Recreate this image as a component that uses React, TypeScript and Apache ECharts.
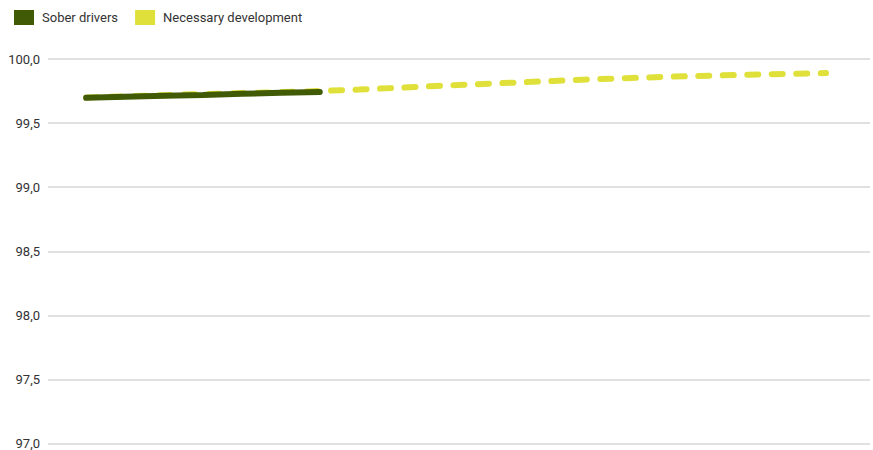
import React, { useEffect, useRef } from "react";
import * as echarts from "echarts";

const years = [2021, 2022, 2023, 2024, 2025, 2026, 2027, 2028, 2029, 2030, 2031, 2032, 2033, 2034, 2035, 2036, 2037, 2038, 2039, 2040];
const soberDrivers = [99.697, 99.705, 99.713, 99.72, 99.728, 99.736, 99.743];
const necessaryDevelopment = [99.7, 99.709, 99.718, 99.726, 99.734, 99.742, 99.75, 99.762, 99.775, 99.79, 99.803, 99.816, 99.829, 99.842, 99.852, 99.862, 99.87, 99.877, 99.884, 99.89];
const yTicks = [97, 97.5, 98, 98.5, 99, 99.5, 100];

const DARK = "#415a05";
const YELLOW = "#dfe13a";

export default function App() {
  const ref = useRef<HTMLDivElement>(null);
  useEffect(() => {
    if (!ref.current) return;
    const chart = echarts.init(ref.current, null, { renderer: "svg" });
    chart.setOption({
      animation: false,
      textStyle: { fontFamily: "Roboto, sans-serif" },
      legend: {
        left: 9,
        top: 5,
        itemWidth: 20,
        itemHeight: 15,
        itemGap: 17,
        icon: "rect",
        data: ["Sober drivers", "Necessary development"],
        textStyle: { color: "#333", fontSize: 13, padding: [0, 0, 0, 3] },
      },
      grid: { left: 48, right: 3, top: 59, bottom: 6, containLabel: false },
      xAxis: {
        type: "value",
        min: years[0] - 0.98,
        max: years[years.length - 1] + 1.13,
        show: false,
        splitLine: { show: false },
      },
      yAxis: {
        type: "value",
        min: yTicks[0],
        max: yTicks[yTicks.length - 1],
        interval: 0.5,
        axisLine: { show: false },
        axisTick: { show: false },
        axisLabel: {
          color: "#333",
          fontSize: 13,
          margin: 8,
          formatter: (v: number) => v.toFixed(1).replace(".", ","),
        },
        splitLine: { lineStyle: { color: "#d6d6d6", width: 1.5 } },
      },
      series: [
        {
          name: "Necessary development",
          type: "line",
          data: necessaryDevelopment.map((v, i) => [years[i], v]),
          showSymbol: false,
          symbol: "none",
          z: 2,
          itemStyle: { color: YELLOW },
          lineStyle: { color: YELLOW, width: 6, type: [11, 13.5], cap: "round" },
        },
        {
          name: "Sober drivers",
          type: "line",
          data: soberDrivers.map((v, i) => [years[i], v]),
          showSymbol: false,
          symbol: "none",
          z: 3,
          itemStyle: { color: DARK },
          lineStyle: { color: DARK, width: 6, cap: "round" },
        },
      ],
    });
    return () => chart.dispose();
  }, []);
  return <div ref={ref} style={{ width: 873, height: 450, position: "absolute", left: 0, top: 0 }} />;
}
